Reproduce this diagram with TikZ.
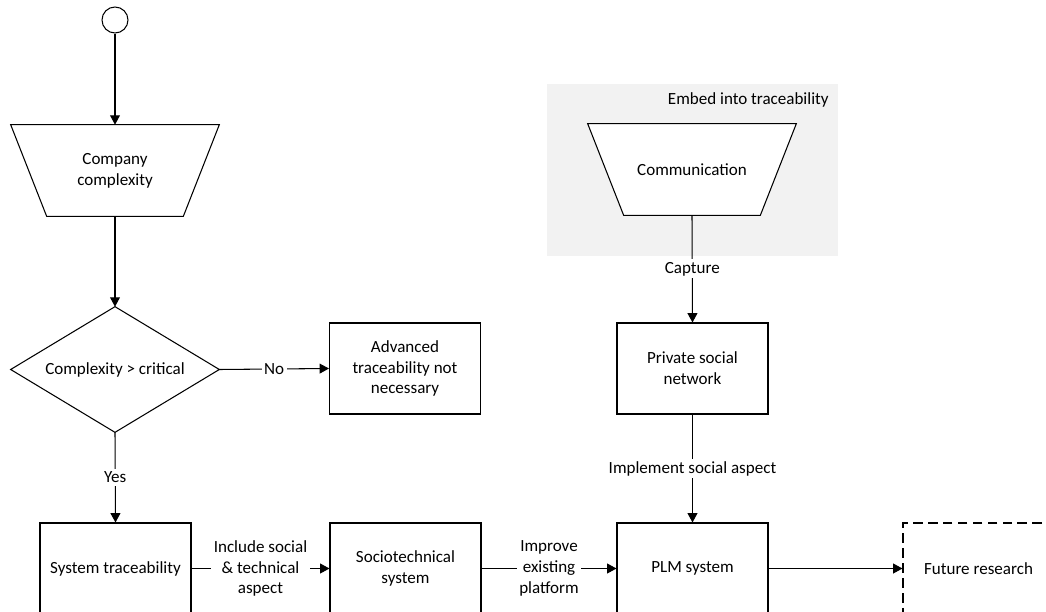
\documentclass[tikz,border=0pt]{standalone}
\usepackage{fontspec}
\setmainfont{Carlito}
\usetikzlibrary{arrows.meta}

\begin{document}
\begin{tikzpicture}[x=0.02cm, y=-0.02cm,
  every node/.style={font=\fontsize{9.7}{11.8}\selectfont},
  line/.style={line width=0.6pt, black},
  arr/.style={line, -{Triangle[length=5.3pt, width=5.6pt]}},
  box/.style={draw, line width=0.6pt, minimum width=3.02cm, minimum height=1.82cm, align=center, inner sep=2pt},
  trap/.style={minimum width=4.16cm, minimum height=1.82cm, align=center, inner sep=0pt},
  lbl/.style={fill=white, align=center, inner sep=1.5pt}]
\clip (0,0) rectangle (1046,612);
\fill[black!5] (547,84) rectangle (838,256);
\node[anchor=east, inner sep=0pt] (embedlbl) at (829,100) {Embed into traceability};

\node[draw, circle, line width=0.6pt, minimum size=0.52cm, inner sep=0pt] (start) at (115,20) {};
\node[trap] (company) at (115,170.5) {Company\\complexity};
\draw[line] (company.north west) -- (company.north east) -- ([xshift=-0.72cm]company.south east) -- ([xshift=0.72cm]company.south west) -- cycle;
\node[trap, minimum height=2.5cm] (crit) at (115,369.5) {Complexity > critical};
\draw[line] (crit.north) -- (crit.east) -- (crit.south) -- (crit.west) -- cycle;
\node[box] (advanced) at (405,368.5) {Advanced\\traceability not\\necessary};
\node[box] (systrace) at (115.5,568.5) {System traceability};
\node[box] (socio) at (405.5,568.5) {Sociotechnical\\system};
\node[box] (plm) at (692.5,568.5) {PLM system};
\node[box, dash pattern=on 5.5pt off 3pt] (future) at (978.5,568.5) {Future research};

\node[trap] (comm) at (692,169.5) {Communication};
\draw[line, fill=white] (comm.north west) -- (comm.north east) -- ([xshift=-0.72cm]comm.south east) -- ([xshift=0.72cm]comm.south west) -- cycle;
\node[trap] at (comm) {Communication};
\node[box] (private) at (692.5,368.5) {Private social\\network};

\draw[arr] (start) -- (company.north);
\draw[arr] (company.south) -- (crit.north);
\draw[arr] (crit.east) -- node[lbl] {No} (advanced.west);
\draw[arr] (crit.south) -- node[lbl] {Yes} (systrace.north);
\draw[arr] (systrace.east) -- node[lbl] {Include social\\\& technical\\aspect} (socio.west);
\draw[arr] (socio.east) -- node[lbl] {Improve\\existing\\platform} (plm.west);
\draw[arr] (comm.south) -- node[lbl] {Capture} (private.north);
\draw[arr] (private.south) -- node[lbl] {Implement social aspect} (plm.north);
\draw[arr] (plm.east) -- (future.west);
\end{tikzpicture}
\end{document}
